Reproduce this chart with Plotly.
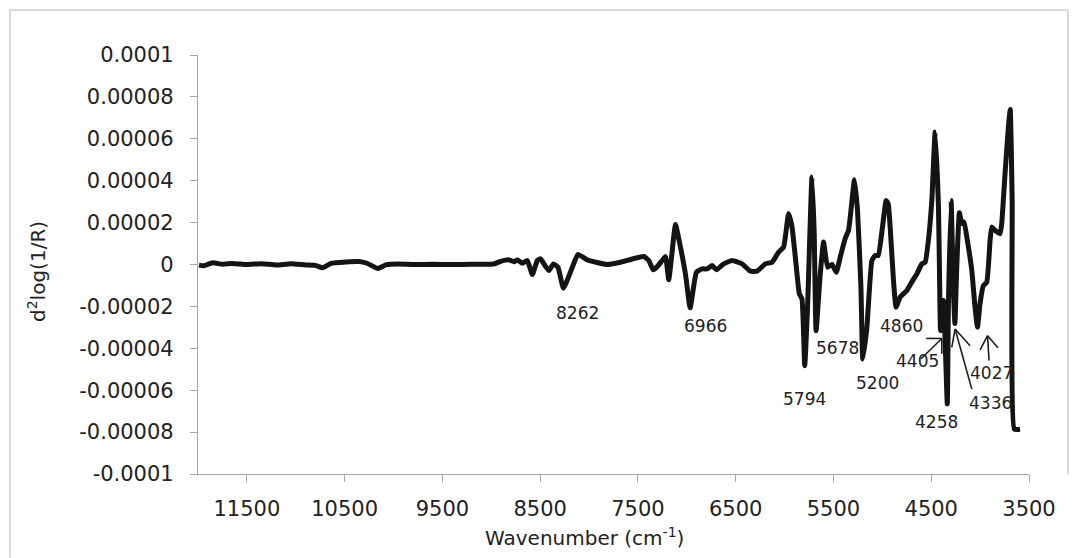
import plotly.graph_objects as go

# Second-derivative NIR spectrum, d2log(1/R) versus wavenumber (cm-1)
wavenumber = [
    11990, 11940, 11850, 11750, 11650, 11500, 11350, 11200, 11050, 10900,
    10800, 10725, 10640, 10487, 10354, 10272, 10163, 10078, 9950, 9800,
    9600, 9400, 9200, 8975, 8904, 8819, 8768, 8733, 8682, 8631,
    8580, 8529, 8495, 8451, 8410, 8365, 8318, 8262, 8171, 8114,
    8018, 7814, 7678, 7440, 7389, 7344, 7303, 7252, 7218, 7185,
    7160, 7116, 7072, 7014, 6966, 6902, 6843, 6792, 6741, 6697,
    6623, 6537, 6435, 6350, 6282, 6197, 6128, 6061, 6010, 5959,
    5924, 5890, 5849, 5822, 5794, 5765, 5720, 5697, 5678, 5635,
    5601, 5560, 5515, 5471, 5431, 5380, 5346, 5321, 5285, 5254,
    5219, 5200, 5158, 5107, 5073, 5042, 5001, 4961, 4940, 4920,
    4886, 4860, 4818, 4749, 4698, 4647, 4596, 4562, 4529, 4494,
    4460, 4426, 4412, 4405, 4375, 4336, 4324, 4297, 4273, 4258,
    4238, 4212, 4187, 4164, 4136, 4085, 4052, 4027, 4001, 3967,
    3932, 3898, 3881, 3847, 3796, 3779, 3745, 3711, 3692, 3672,
    3650, 3592,
]
d2_log_inv_r = [
    -0.3e-6, -0.6e-6, 0.8e-6, 0.1e-6, 0.5e-6, 0.0, 0.4e-6, -0.2e-6, 0.3e-6, -0.2e-6,
    -0.4e-6, -1.6e-6, 0.5e-6, 1.2e-6, 1.4e-6, 0.6e-6, -1.9e-6, -0.2e-6, 0.2e-6, 0.0,
    0.1e-6, 0.0, 0.1e-6, 0.2e-6, 1.5e-6, 2.2e-6, 1.3e-6, 2.2e-6, 0.6e-6, 1.9e-6,
    -4.8e-6, 1.9e-6, 2.7e-6, -0.5e-6, -2.9e-6, 0.3e-6, -1.3e-6, -1.13e-5, -1.3e-6, 4.8e-6,
    2.2e-6, 0.0, 1.1e-6, 3.8e-6, 1.9e-6, -2.5e-6, -1.0e-6, 1.9e-6, 3.8e-6, -7.3e-6,
    1.9e-6, 1.91e-5, 9.9e-6, -4.5e-6, -2.07e-5, -3.7e-6, -2.1e-6, -2.1e-6, -0.5e-6, -2.5e-6,
    0.3e-6, 1.9e-6, 0.3e-6, -3.2e-6, -3.2e-6, 0.3e-6, 1.1e-6, 5.9e-6, 8.3e-6, 2.43e-5,
    1.79e-5, 3.5e-6, -1.4e-5, -1.64e-5, -4.83e-5, -2.04e-5, 4.18e-5, 1.48e-5, -3.16e-5, -4.5e-6,
    1.07e-5, -1.3e-6, 0.0, -3.7e-6, 3.5e-6, 1.24e-5, 1.63e-5, 2.58e-5, 4.05e-5, 2.58e-5,
    -1.09e-5, -4.51e-5, -2.98e-5, 1.9e-6, 4.3e-6, 4.3e-6, 1.7e-5, 3.06e-5, 2.9e-5, 1.79e-5,
    -7.7e-6, -2.04e-5, -1.56e-5, -1.24e-5, -8.3e-6, -4.5e-6, 0.3e-6, 1.1e-6, 1.15e-5, 3.06e-5,
    6.33e-5, 2.74e-5, -1.56e-5, -3.16e-5, -1.72e-5, -6.65e-5, -1.87e-5, 3.06e-5, -1.24e-5, -2.82e-5,
    0.0, 2.47e-5, 1.95e-5, 2.03e-5, 1.31e-5, -2.9e-6, -2.04e-5, -2.99e-5, -1.87e-5, -1.01e-5,
    -8.5e-6, 1.15e-5, 1.79e-5, 1.63e-5, 1.47e-5, 1.95e-5, 4.34e-5, 6.54e-5, 7.40e-5, 3.0e-5,
    -7.86e-5, -7.86e-5,
]

x_tick_values = [11500, 10500, 9500, 8500, 7500, 6500, 5500, 4500, 3500]
x_tick_labels = ["11500", "10500", "9500", "8500", "7500", "6500", "5500", "4500", "3500"]
y_tick_values = [1e-4, 8e-5, 6e-5, 4e-5, 2e-5, 0, -2e-5, -4e-5, -6e-5, -8e-5, -1e-4]
y_tick_labels = ["0.0001", "0.00008", "0.00006", "0.00004", "0.00002", "0",
                 "-0.00002", "-0.00004", "-0.00006", "-0.00008", "-0.0001"]

# Band labels and where their text sits (wavenumber, value)
band_labels = ["8262", "6966", "5794", "5678", "5200", "4860", "4405", "4258", "4336", "4027"]
band_label_pos = [
    (8120, -2.33e-5), (6810, -2.95e-5), (5795, -6.40e-5), (5454, -4.00e-5),
    (5050, -5.66e-5), (4800, -2.92e-5), (4637, -4.59e-5), (4443, -7.51e-5),
    (3898, -6.62e-5), (3881, -5.18e-5),
]
# Pointer arrows: tip, tail, and the two open head arms
pointer_arrows = [
    {"tip": (4392, -3.53e-5), "tail": (4603, -4.50e-5),
     "arms": [(4552, -3.53e-5), (4392, -4.26e-5)]},
    {"tip": (4256, -3.08e-5), "tail": (4085, -5.95e-5),
     "arms": [(4103, -3.88e-5), (4290, -3.96e-5)]},
    {"tip": (3924, -3.40e-5), "tail": (3909, -4.59e-5),
     "arms": [(4000, -4.07e-5), (3817, -3.97e-5)]},
]

FONT = "DejaVu Sans"
TEXT_COLOR = "#222222"
AXIS_COLOR = "#a6a6a6"

fig = go.Figure()
fig.add_trace(go.Scatter(
    x=wavenumber, y=d2_log_inv_r, mode="lines",
    line=dict(color="#141414", width=5, shape="spline", smoothing=0.4),
    hoverinfo="skip", showlegend=False,
))

for text, (bx, by) in zip(band_labels, band_label_pos):
    fig.add_annotation(x=bx, y=by, text=text, showarrow=False,
                       xanchor="center", yanchor="middle",
                       font=dict(family=FONT, size=17, color=TEXT_COLOR))

shapes = []
for arrow in pointer_arrows:
    tx, ty = arrow["tip"]
    segments = [arrow["tail"]] + arrow["arms"]
    for sx, sy in segments:
        shapes.append(dict(type="line", xref="x", yref="y", x0=sx, y0=sy, x1=tx, y1=ty,
                           line=dict(color="#1e1e1e", width=1.6)))

# Light chart-area frame
frame = dict(color="#cfcfcf", width=1.5)
shapes += [
    dict(type="line", xref="paper", yref="paper", x0=-0.2262, x1=-0.2262, y0=-0.2, y1=1.1074, line=frame),
    dict(type="line", xref="paper", yref="paper", x0=-0.2262, x1=1.0469, y0=1.1074, y1=1.1074, line=frame),
    dict(type="line", xref="paper", yref="paper", x0=1.0469, x1=1.0469, y0=0.0, y1=1.1074, line=frame),
]

fig.update_layout(
    width=1077, height=558,
    margin=dict(l=198, r=48, t=55, b=84),
    paper_bgcolor="white", plot_bgcolor="white",
    font=dict(family=FONT, color=TEXT_COLOR),
    shapes=shapes,
    xaxis=dict(
        range=[12000, 3500], tickvals=x_tick_values, ticktext=x_tick_labels,
        showgrid=False, zeroline=False, showline=True, linecolor=AXIS_COLOR, linewidth=1.2,
        ticks="outside", ticklen=7, tickcolor=AXIS_COLOR, tickwidth=1.2,
        tickfont=dict(family=FONT, size=21, color=TEXT_COLOR), ticklabelstandoff=9,
    ),
    yaxis=dict(
        range=[-1e-4, 1e-4], tickvals=y_tick_values, ticktext=y_tick_labels,
        showgrid=False, zeroline=False, showline=True, linecolor=AXIS_COLOR, linewidth=1.2,
        ticks="outside", ticklen=7, tickcolor=AXIS_COLOR, tickwidth=1.2,
        tickfont=dict(family=FONT, size=21, color=TEXT_COLOR), ticklabelstandoff=12,
    ),
)

# Axis titles
fig.add_annotation(xref="paper", yref="paper", x=(584 - 198) / 831, y=(474 - 537) / 419,
                   xanchor="center", yanchor="middle",
                   text="Wavenumber (cm<sup>-1</sup>)", showarrow=False,
                   font=dict(family=FONT, size=20, color=TEXT_COLOR))
fig.add_annotation(xref="paper", yref="paper", x=(37 - 198) / 831, y=(474 - 272) / 419,
                   xanchor="center", yanchor="middle",
                   text="d<sup>2</sup>log(1/R)", showarrow=False, textangle=-90,
                   font=dict(family=FONT, size=20, color=TEXT_COLOR))

fig.write_html("out.html")
